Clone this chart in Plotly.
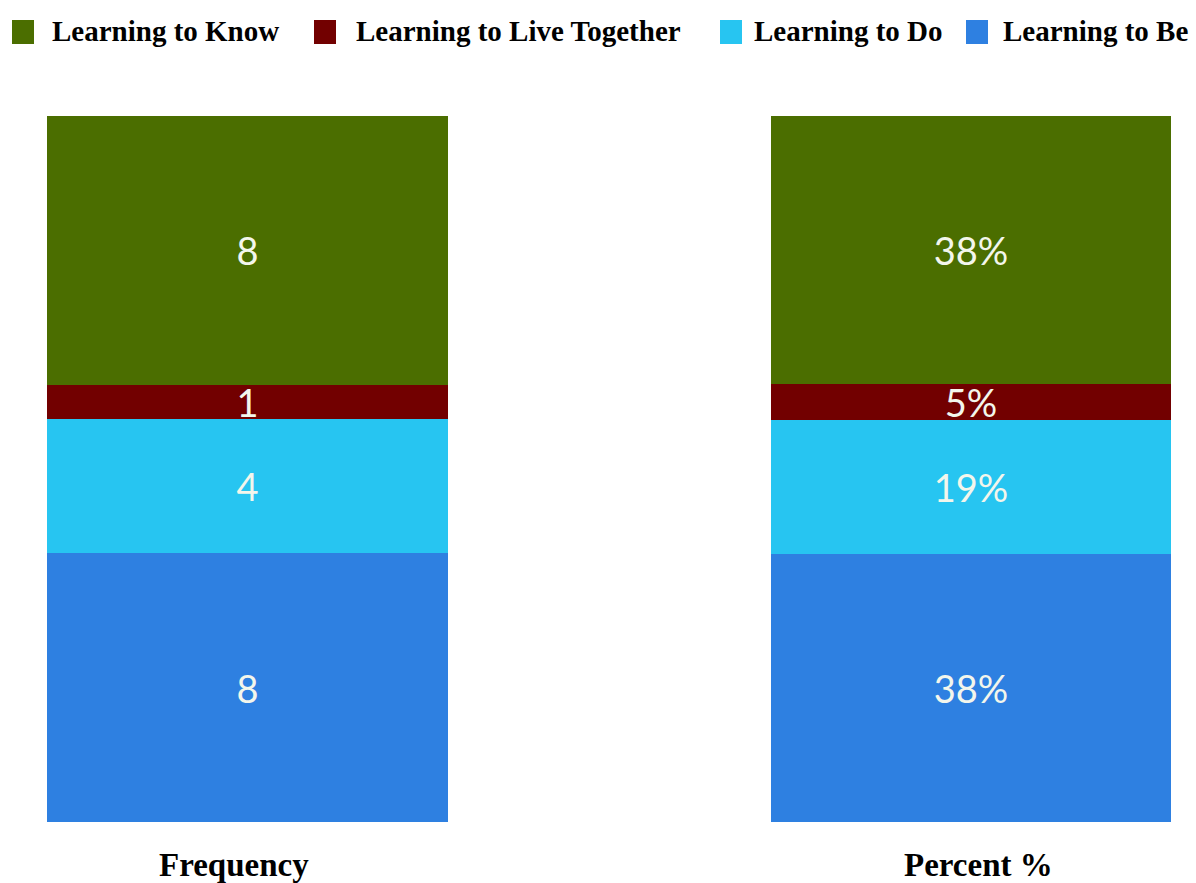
import plotly.graph_objects as go

# Survey results: four pillars of learning, shown as counts and as shares
categories = ["Frequency", "Percent %"]
series_names = ["Learning to Be", "Learning to Do", "Learning to Live Together", "Learning to Know"]
frequency = [8, 4, 1, 8]
percent = [38, 19, 5, 38]
colors = ["#2e80e1", "#27c5f1", "#720000", "#4b6e00"]

W, H = 1196, 883
TOP, BOTTOM = 116, 61
PLOT_H = H - TOP - BOTTOM


def py(pixel_y):
    """Convert a pixel row (from the top of the page) to paper units of the plot area."""
    return (H - BOTTOM - pixel_y) / PLOT_H


fig = go.Figure()
for i, name in enumerate(series_names):
    fig.add_trace(go.Bar(
        x=categories,
        y=[frequency[i], percent[i]],
        name=name,
        marker=dict(color=colors[i], line=dict(width=0)),
        text=[str(frequency[i]), f"{percent[i]}%"],
        textposition="inside",
        insidetextanchor="middle",
        textangle=0,
        constraintext="none",
        textfont=dict(family="Lato", size=38, color="#f3f6ec"),
        showlegend=False,
        hoverinfo="skip",
    ))

# Legend row drawn across the top: colour swatch followed by bold serif label
legend_order = ["Learning to Know", "Learning to Live Together", "Learning to Do", "Learning to Be"]
swatch_left = [12, 314, 720, 966]
label_left = [50, 354, 752, 1001]
shapes = []
annotations = []
for name, sx, lx in zip(legend_order, swatch_left, label_left):
    c = colors[series_names.index(name)]
    shapes.append(dict(type="rect", xref="paper", yref="paper",
                       x0=sx / W, x1=(sx + 22) / W,
                       y0=py(44), y1=py(20),
                       fillcolor=c, line=dict(width=0)))
    annotations.append(dict(text=f"<b>{name}</b>", xref="paper", yref="paper",
                            x=lx / W, y=py(31), xanchor="left", yanchor="middle",
                            showarrow=False,
                            font=dict(family="Liberation Serif", size=29, color="#000000")))

# Category captions under each bar
for cat, shift in zip(categories, [-13, 8]):
    annotations.append(dict(text=f"<b>{cat}</b>", xref="x", yref="paper",
                            x=cat, y=py(865), xshift=shift,
                            xanchor="center", yanchor="middle", showarrow=False,
                            font=dict(family="Liberation Serif", size=33, color="#000000")))

fig.update_layout(
    width=W, height=H,
    barmode="stack",
    barnorm="percent",
    bargap=0.446,
    margin=dict(l=0, r=0, t=TOP, b=BOTTOM),
    paper_bgcolor="white",
    plot_bgcolor="white",
    shapes=shapes,
    annotations=annotations,
    xaxis=dict(type="category", range=[-0.342, 1.311], showgrid=False, zeroline=False,
               showline=False, ticks="", showticklabels=False, automargin=False),
    yaxis=dict(range=[0, 100], visible=False, showgrid=False, zeroline=False),
)

fig.write_html("out.html")
